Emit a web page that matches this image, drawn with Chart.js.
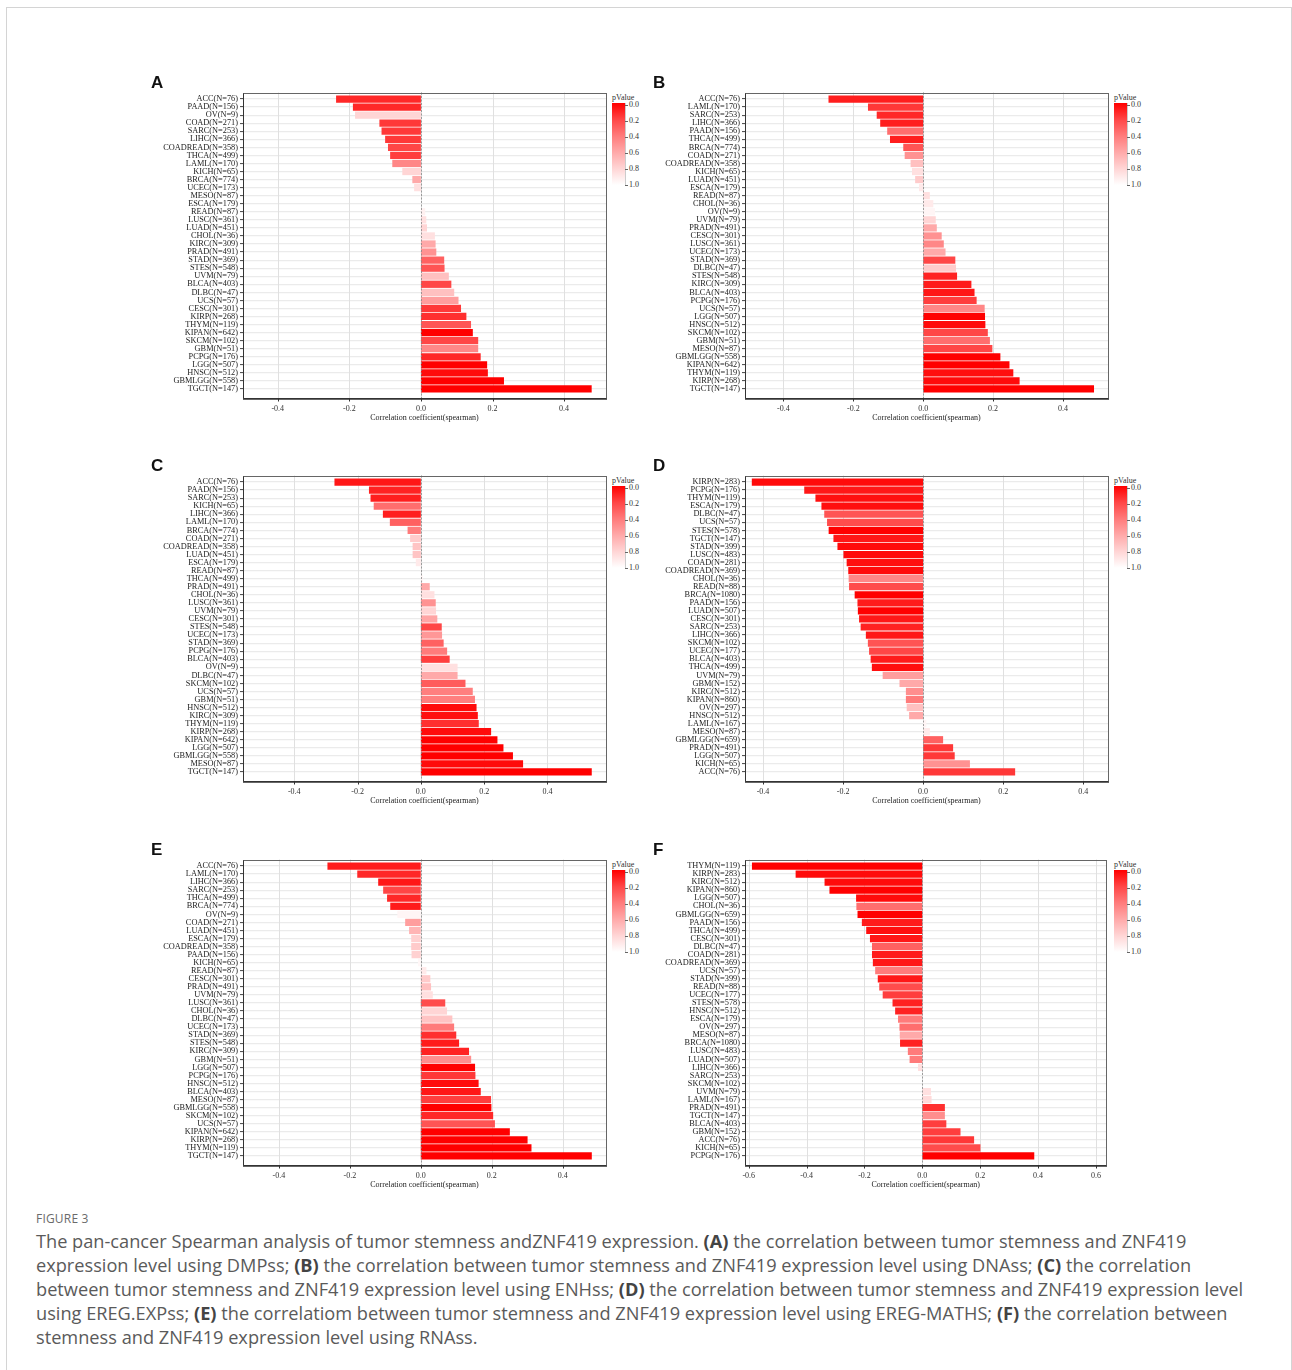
<!DOCTYPE html>
<html>
<head>
<meta charset="utf-8">
<script src="https://cdn.jsdelivr.net/npm/chart.js@4.4.1/dist/chart.umd.min.js"></script>
<style>
  body { margin: 0; background: #fff; width: 1292px; height: 1370px; position: relative; overflow: hidden; }
  .frame { position: absolute; left: 6px; top: 7px; width: 1284px; height: 1380px; border: 1px solid #d4d4d4; }
  .panel { position: absolute; }
  .letter { position: absolute; font: bold 17px "Liberation Sans", Arial, sans-serif; color: #111; }
  .leg { position: absolute; font: 8px "Liberation Serif", serif; color: #333; }
  .leg .bar { position: absolute; left: 0; width: 13px; }
  .leg .tk { position: absolute; left: 13px; width: 3px; height: 0; border-top: 1px solid #666; }
  .leg .lb { position: absolute; left: 17px; line-height: 8px; }
  .cap { position: absolute; left: 36px; font-family: "Open Sans", sans-serif; color: #5a5a5a; }
  .cap div { white-space: nowrap; }
  .cap b { color: #444; }
</style>
</head>
<body>
<div class="frame"></div>
<div id="root"></div>
<div class="cap" style="top:1210px;font-size:12px;color:#6a6a6a;letter-spacing:0.2px">FIGURE 3</div>
<div class="cap" style="top:1229px;font-size:18.2px;line-height:24px">
  <div>The pan-cancer Spearman analysis of tumor stemness andZNF419 expression. <b>(A)</b> the correlation between tumor stemness and ZNF419</div>
  <div>expression level using DMPss; <b>(B)</b> the correlation between tumor stemness and ZNF419 expression level using DNAss; <b>(C)</b> the correlation</div>
  <div>between tumor stemness and ZNF419 expression level using ENHss; <b>(D)</b> the correlation between tumor stemness and ZNF419 expression level</div>
  <div>using EREG.EXPss; <b>(E)</b> the correlatiom between tumor stemness and ZNF419 expression level using EREG-MATHS; <b>(F)</b> the correlation between</div>
  <div>stemness and ZNF419 expression level using RNAss.</div>
</div>
<script>
// panel A - DMPss
const aCats = ['ACC(N=76)', 'PAAD(N=156)', 'OV(N=9)', 'COAD(N=271)', 'SARC(N=253)', 'LIHC(N=366)', 'COADREAD(N=358)', 'THCA(N=499)', 'LAML(N=170)', 'KICH(N=65)', 'BRCA(N=774)', 'UCEC(N=173)', 'MESO(N=87)', 'ESCA(N=179)', 'READ(N=87)', 'LUSC(N=361)', 'LUAD(N=451)', 'CHOL(N=36)', 'KIRC(N=309)', 'PRAD(N=491)', 'STAD(N=369)', 'STES(N=548)', 'UVM(N=79)', 'BLCA(N=403)', 'DLBC(N=47)', 'UCS(N=57)', 'CESC(N=301)', 'KIRP(N=268)', 'THYM(N=119)', 'KIPAN(N=642)', 'SKCM(N=102)', 'GBM(N=51)', 'PCPG(N=176)', 'LGG(N=507)', 'HNSC(N=512)', 'GBMLGG(N=558)', 'TGCT(N=147)']
const aRho = [-0.237, -0.190, -0.184, -0.116, -0.110, -0.100, -0.092, -0.086, -0.080, -0.052, -0.024, -0.019, -0.002, 0.001, 0.012, 0.015, 0.017, 0.039, 0.041, 0.043, 0.065, 0.066, 0.078, 0.085, 0.093, 0.105, 0.112, 0.127, 0.140, 0.145, 0.160, 0.160, 0.167, 0.185, 0.187, 0.232, 0.477]
const aP = [0.10, 0.10, 0.80, 0.15, 0.15, 0.15, 0.20, 0.17, 0.45, 0.80, 0.60, 0.85, 0.98, 0.99, 0.93, 0.85, 0.80, 0.85, 0.60, 0.50, 0.30, 0.25, 0.70, 0.20, 0.70, 0.55, 0.15, 0.12, 0.25, 0.00, 0.20, 0.45, 0.10, 0.00, 0.02, 0.00, 0.00]

// panel B - DNAss
const bCats = ['ACC(N=76)', 'LAML(N=170)', 'SARC(N=253)', 'LIHC(N=366)', 'PAAD(N=156)', 'THCA(N=499)', 'BRCA(N=774)', 'COAD(N=271)', 'COADREAD(N=358)', 'KICH(N=65)', 'LUAD(N=451)', 'ESCA(N=179)', 'READ(N=87)', 'CHOL(N=36)', 'OV(N=9)', 'UVM(N=79)', 'PRAD(N=491)', 'CESC(N=301)', 'LUSC(N=361)', 'UCEC(N=173)', 'STAD(N=369)', 'DLBC(N=47)', 'STES(N=548)', 'KIRC(N=309)', 'BLCA(N=403)', 'PCPG(N=176)', 'UCS(N=57)', 'LGG(N=507)', 'HNSC(N=512)', 'SKCM(N=102)', 'GBM(N=51)', 'MESO(N=87)', 'GBMLGG(N=558)', 'KIPAN(N=642)', 'THYM(N=119)', 'KIRP(N=268)', 'TGCT(N=147)']
const bRho = [-0.271, -0.158, -0.133, -0.123, -0.103, -0.095, -0.057, -0.053, -0.036, -0.032, -0.023, -0.012, 0.019, 0.029, 0.034, 0.036, 0.039, 0.053, 0.059, 0.064, 0.092, 0.094, 0.097, 0.138, 0.147, 0.153, 0.176, 0.177, 0.178, 0.185, 0.191, 0.198, 0.221, 0.247, 0.258, 0.276, 0.489]
const bP = [0.07, 0.15, 0.10, 0.07, 0.35, 0.07, 0.25, 0.50, 0.70, 0.85, 0.75, 0.90, 0.85, 0.90, 0.95, 0.80, 0.60, 0.50, 0.45, 0.60, 0.20, 0.75, 0.08, 0.06, 0.05, 0.17, 0.45, 0.00, 0.02, 0.20, 0.35, 0.20, 0.00, 0.00, 0.03, 0.02, 0.00]

// panel C - ENHss
const cCats = ['ACC(N=76)', 'PAAD(N=156)', 'SARC(N=253)', 'KICH(N=65)', 'LIHC(N=366)', 'LAML(N=170)', 'BRCA(N=774)', 'COAD(N=271)', 'COADREAD(N=358)', 'LUAD(N=451)', 'ESCA(N=179)', 'READ(N=87)', 'THCA(N=499)', 'PRAD(N=491)', 'CHOL(N=36)', 'LUSC(N=361)', 'UVM(N=79)', 'CESC(N=301)', 'STES(N=548)', 'UCEC(N=173)', 'STAD(N=369)', 'PCPG(N=176)', 'BLCA(N=403)', 'OV(N=9)', 'DLBC(N=47)', 'SKCM(N=102)', 'UCS(N=57)', 'GBM(N=51)', 'HNSC(N=512)', 'KIRC(N=309)', 'THYM(N=119)', 'KIRP(N=268)', 'KIPAN(N=642)', 'LGG(N=507)', 'GBMLGG(N=558)', 'MESO(N=87)', 'TGCT(N=147)']
const cRho = [-0.273, -0.164, -0.159, -0.149, -0.120, -0.098, -0.042, -0.034, -0.026, -0.026, -0.016, -0.002, 0.006, 0.028, 0.043, 0.047, 0.048, 0.052, 0.066, 0.067, 0.072, 0.083, 0.091, 0.116, 0.116, 0.141, 0.164, 0.171, 0.176, 0.180, 0.183, 0.222, 0.242, 0.261, 0.291, 0.323, 0.540]
const cP = [0.05, 0.08, 0.07, 0.35, 0.07, 0.30, 0.40, 0.75, 0.72, 0.72, 0.90, 0.98, 0.95, 0.60, 0.85, 0.50, 0.80, 0.58, 0.20, 0.52, 0.30, 0.40, 0.17, 0.85, 0.60, 0.28, 0.42, 0.42, 0.02, 0.03, 0.12, 0.02, 0.00, 0.00, 0.00, 0.02, 0.00]

// panel D - EREG.EXPss
const dCats = ['KIRP(N=283)', 'PCPG(N=176)', 'THYM(N=119)', 'ESCA(N=179)', 'DLBC(N=47)', 'UCS(N=57)', 'STES(N=578)', 'TGCT(N=147)', 'STAD(N=399)', 'LUSC(N=483)', 'COAD(N=281)', 'COADREAD(N=369)', 'CHOL(N=36)', 'READ(N=88)', 'BRCA(N=1080)', 'PAAD(N=156)', 'LUAD(N=507)', 'CESC(N=301)', 'SARC(N=253)', 'LIHC(N=366)', 'SKCM(N=102)', 'UCEC(N=177)', 'BLCA(N=403)', 'THCA(N=499)', 'UVM(N=79)', 'GBM(N=152)', 'KIRC(N=512)', 'KIPAN(N=860)', 'OV(N=297)', 'HNSC(N=512)', 'LAML(N=167)', 'MESO(N=87)', 'GBMLGG(N=659)', 'PRAD(N=491)', 'LGG(N=507)', 'KICH(N=65)', 'ACC(N=76)']
const dRho = [-0.428, -0.297, -0.269, -0.254, -0.247, -0.240, -0.236, -0.224, -0.214, -0.199, -0.191, -0.187, -0.186, -0.185, -0.171, -0.164, -0.163, -0.160, -0.156, -0.143, -0.138, -0.135, -0.131, -0.128, -0.101, -0.059, -0.043, -0.043, -0.041, -0.035, 0.008, 0.017, 0.050, 0.075, 0.079, 0.117, 0.230]
const dP = [0.02, 0.05, 0.03, 0.03, 0.25, 0.22, 0.00, 0.05, 0.02, 0.02, 0.03, 0.02, 0.45, 0.22, 0.00, 0.06, 0.00, 0.05, 0.08, 0.05, 0.25, 0.20, 0.06, 0.03, 0.55, 0.60, 0.48, 0.40, 0.70, 0.60, 0.95, 0.90, 0.30, 0.15, 0.15, 0.50, 0.15]

// panel E - EREG-METHss
const eCats = ['ACC(N=76)', 'LAML(N=170)', 'LIHC(N=366)', 'SARC(N=253)', 'THCA(N=499)', 'BRCA(N=774)', 'OV(N=9)', 'COAD(N=271)', 'LUAD(N=451)', 'ESCA(N=179)', 'COADREAD(N=358)', 'PAAD(N=156)', 'KICH(N=65)', 'READ(N=87)', 'CESC(N=301)', 'PRAD(N=491)', 'UVM(N=79)', 'LUSC(N=361)', 'CHOL(N=36)', 'DLBC(N=47)', 'UCEC(N=173)', 'STAD(N=369)', 'STES(N=548)', 'KIRC(N=309)', 'GBM(N=51)', 'LGG(N=507)', 'PCPG(N=176)', 'HNSC(N=512)', 'BLCA(N=403)', 'MESO(N=87)', 'GBMLGG(N=558)', 'SKCM(N=102)', 'UCS(N=57)', 'KIPAN(N=642)', 'KIRP(N=268)', 'THYM(N=119)', 'TGCT(N=147)']
const eRho = [-0.263, -0.179, -0.120, -0.106, -0.095, -0.086, -0.066, -0.044, -0.033, -0.027, -0.027, -0.026, -0.008, 0.016, 0.027, 0.029, 0.034, 0.069, 0.074, 0.089, 0.094, 0.100, 0.108, 0.136, 0.142, 0.153, 0.154, 0.163, 0.169, 0.198, 0.199, 0.204, 0.209, 0.251, 0.301, 0.312, 0.482]
const eP = [0.06, 0.10, 0.05, 0.20, 0.10, 0.06, 0.95, 0.55, 0.65, 0.78, 0.75, 0.78, 0.96, 0.90, 0.75, 0.70, 0.85, 0.22, 0.80, 0.72, 0.40, 0.12, 0.06, 0.08, 0.48, 0.00, 0.15, 0.02, 0.05, 0.17, 0.00, 0.10, 0.25, 0.00, 0.00, 0.00, 0.00]

// panel F - RNAss
const fCats = ['THYM(N=119)', 'KIRP(N=283)', 'KIRC(N=512)', 'KIPAN(N=860)', 'LGG(N=507)', 'CHOL(N=36)', 'GBMLGG(N=659)', 'PAAD(N=156)', 'THCA(N=499)', 'CESC(N=301)', 'DLBC(N=47)', 'COAD(N=281)', 'COADREAD(N=369)', 'UCS(N=57)', 'STAD(N=399)', 'READ(N=88)', 'UCEC(N=177)', 'STES(N=578)', 'HNSC(N=512)', 'ESCA(N=179)', 'OV(N=297)', 'MESO(N=87)', 'BRCA(N=1080)', 'LUSC(N=483)', 'LUAD(N=507)', 'LIHC(N=366)', 'SARC(N=253)', 'SKCM(N=102)', 'UVM(N=79)', 'LAML(N=167)', 'PRAD(N=491)', 'TGCT(N=147)', 'BLCA(N=403)', 'GBM(N=152)', 'ACC(N=76)', 'KICH(N=65)', 'PCPG(N=176)']
const fRho = [-0.589, -0.438, -0.338, -0.321, -0.229, -0.228, -0.224, -0.209, -0.194, -0.181, -0.174, -0.174, -0.171, -0.163, -0.154, -0.149, -0.137, -0.103, -0.094, -0.084, -0.079, -0.078, -0.077, -0.050, -0.044, -0.015, -0.001, 0.001, 0.030, 0.032, 0.078, 0.078, 0.083, 0.132, 0.179, 0.201, 0.387]
const fP = [0.00, 0.02, 0.02, 0.00, 0.02, 0.35, 0.00, 0.06, 0.03, 0.05, 0.30, 0.06, 0.05, 0.40, 0.05, 0.22, 0.17, 0.08, 0.08, 0.40, 0.35, 0.60, 0.08, 0.40, 0.40, 0.85, 0.99, 0.99, 0.85, 0.82, 0.12, 0.48, 0.17, 0.17, 0.15, 0.22, 0.00]

const legendTicks = [0.0, 0.2, 0.4, 0.6, 0.8, 1.0]

let panels = [
  {letter: 'A', cats: aCats, rho: aRho, p: aP, xmin: -0.497, xmax: 0.517, left: 243, top: 95},
  {letter: 'B', cats: bCats, rho: bRho, p: bP, xmin: -0.510, xmax: 0.529, left: 745, top: 95},
  {letter: 'C', cats: cCats, rho: cRho, p: cP, xmin: -0.562, xmax: 0.585, left: 243, top: 478},
  {letter: 'D', cats: dCats, rho: dRho, p: dP, xmin: -0.445, xmax: 0.462, left: 745, top: 478},
  {letter: 'E', cats: eCats, rho: eRho, p: eP, xmin: -0.501, xmax: 0.522, left: 243, top: 862},
  {letter: 'F', cats: fCats, rho: fRho, p: fP, xmin: -0.613, xmax: 0.636, left: 745, top: 862},
]

let plotW = 363
let plotH = 298
let yAxisW = 100
let xAxisH = 32
let padTop = 10
let padRight = 4

// red (p = 0) fading to white (p = 1)
function pColour(p) {
  let v = Math.round(255 * Math.pow(Math.min(Math.max(p, 0), 1), 0.8))
  return `rgb(255,${v},${v})`
}

let serif = '"Liberation Serif", "Times New Roman", serif'

let framePlugin = {
  id: 'frame',
  beforeDatasetsDraw(chart) {
    let ctx = chart.ctx
    let area = chart.chartArea
    let x = chart.scales.x
    ctx.save()
    ctx.strokeStyle = '#e0e0e0'
    ctx.lineWidth = 1
    for (let t of x.ticks) {
      let px = Math.round(x.getPixelForValue(t.value)) + 0.5
      ctx.beginPath()
      ctx.moveTo(px, area.top - 2.5)
      ctx.lineTo(px, area.bottom + 5)
      ctx.stroke()
    }
    ctx.restore()
  },
  afterDatasetsDraw(chart) {
    let ctx = chart.ctx
    let area = chart.chartArea
    let x = chart.scales.x
    let top = area.top - 2.5
    let bottom = area.bottom + 5
    ctx.save()
    // dashed zero line
    let zx = Math.round(x.getPixelForValue(0)) + 0.5
    ctx.strokeStyle = '#888'
    ctx.lineWidth = 0.8
    ctx.setLineDash([2, 1.5])
    ctx.beginPath()
    ctx.moveTo(zx, top)
    ctx.lineTo(zx, bottom)
    ctx.stroke()
    ctx.setLineDash([])
    // box round the plot
    ctx.strokeStyle = '#666'
    ctx.lineWidth = 1
    ctx.strokeRect(Math.round(area.left) + 0.5, Math.round(top) + 0.5, Math.round(area.right - area.left), Math.round(bottom - top))
    ctx.strokeStyle = '#333'
    ctx.beginPath()
    ctx.moveTo(Math.round(area.left) + 0.5, Math.round(top) + 0.5)
    ctx.lineTo(Math.round(area.left) + 0.5, Math.round(bottom) + 0.5)
    ctx.lineTo(Math.round(area.right) + 0.5, Math.round(bottom) + 0.5)
    ctx.stroke()
    // x tick marks
    for (let t of x.ticks) {
      let px = Math.round(x.getPixelForValue(t.value)) + 0.5
      ctx.beginPath()
      ctx.moveTo(px, Math.round(bottom) + 0.5)
      ctx.lineTo(px, Math.round(bottom) + 3.5)
      ctx.stroke()
    }
    ctx.restore()
  },
}

let root = document.getElementById('root')

for (let panel of panels) {
  let wrap = document.createElement('div')
  wrap.className = 'panel'
  let cw = plotW + yAxisW + padRight
  let ch = plotH + padTop + xAxisH
  wrap.style.left = (panel.left - yAxisW) + 'px'
  wrap.style.top = (panel.top - padTop) + 'px'
  let canvas = document.createElement('canvas')
  canvas.width = cw
  canvas.height = ch
  canvas.style.width = cw + 'px'
  canvas.style.height = ch + 'px'
  wrap.appendChild(canvas)
  root.appendChild(wrap)

  let letter = document.createElement('div')
  letter.className = 'letter'
  letter.textContent = panel.letter
  letter.style.left = (panel.left - 92) + 'px'
  letter.style.top = (panel.top - 22) + 'px'
  root.appendChild(letter)

  // pValue colour bar
  let leg = document.createElement('div')
  leg.className = 'leg'
  leg.style.left = (panel.left + plotW + 6) + 'px'
  leg.style.top = (panel.top - 1) + 'px'
  let stops = legendTicks.map(v => pColour(v)).join(',')
  let html = '<div style="position:absolute;left:0;top:-1px;white-space:nowrap;font-size:8px">pValue</div>'
  html += `<div class="bar" style="top:9px;height:82px;background:linear-gradient(to bottom,${stops})"></div>`
  html += '<div style="position:absolute;left:13px;top:9px;width:0;height:82px;border-left:1px solid #ccc"></div>'
  legendTicks.forEach((v, i) => {
    let y = 11 + i * 16
    html += `<div class="tk" style="top:${y}px"></div>`
    html += `<div class="lb" style="top:${y - 4}px">${v.toFixed(1)}</div>`
  })
  leg.innerHTML = html
  root.appendChild(leg)

  new Chart(canvas.getContext('2d'), {
    type: 'bar',
    data: {
      labels: panel.cats,
      datasets: [{
        data: panel.rho,
        backgroundColor: panel.p.map(pColour),
        borderWidth: 0,
        barPercentage: 0.9,
        categoryPercentage: 1,
      }],
    },
    options: {
      indexAxis: 'y',
      responsive: false,
      animation: false,
      events: [],
      layout: {padding: {top: padTop, right: padRight, left: 0, bottom: 0}},
      plugins: {legend: {display: false}, tooltip: {enabled: false}},
      scales: {
        x: {
          type: 'linear',
          min: panel.xmin,
          max: panel.xmax,
          afterFit(scale) { scale.height = xAxisH },
          border: {display: false},
          grid: {display: false, drawTicks: false},
          ticks: {
            stepSize: 0.2,
            includeBounds: false,
            padding: 11,
            color: '#333',
            font: {family: serif, size: 8},
            callback: v => v.toFixed(1),
          },
          title: {
            display: true,
            text: 'Correlation coefficient(spearman)',
            color: '#222',
            font: {family: serif, size: 8},
            padding: {top: 0, bottom: 2},
          },
        },
        y: {
          afterFit(scale) { scale.width = yAxisW },
          border: {display: false},
          grid: {offset: false, color: '#ebebeb', lineWidth: 1.2, tickColor: '#444', tickLength: 3, tickWidth: 1},
          ticks: {
            autoSkip: false,
            padding: 2,
            color: '#222',
            font: {family: serif, size: 8.3},
          },
        },
      },
    },
    plugins: [framePlugin],
  })
}
</script>
</body>
</html>
